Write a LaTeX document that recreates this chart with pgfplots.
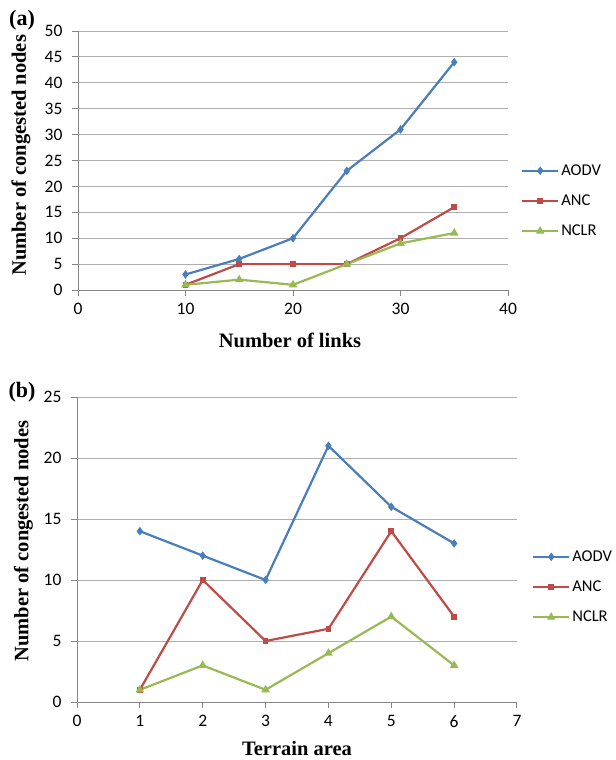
\documentclass[border=0pt]{standalone}
\usepackage{pgfplots}
\pgfplotsset{compat=1.18}
\usepackage{fontspec}
\setmainfont{Liberation Serif}
\newfontfamily\calib{Carlito}
\definecolor{cb}{HTML}{4A7EBB}
\definecolor{cr}{HTML}{BE4B48}
\definecolor{cg}{HTML}{98B954}
\definecolor{gridc}{HTML}{ADADAD}
\definecolor{axc}{HTML}{868686}
\pgfplotsset{
  common/.style={
    scale only axis,
    axis lines*=left,
    axis line style={axc, line width=1bp},
    tick align=outside,
    major tick length=6bp,
    tick style={axc, line width=1bp},
    ymajorgrids,
    grid style={gridc, line width=1bp},
    /pgf/number format/assume math mode=true,
    tick label style={font=\calib\fontsize{17.5bp}{19bp}\selectfont, text=black},
    y tick label style={xshift=-6bp},
    x tick label style={yshift=-4bp},
    label style={font=\bfseries\fontsize{20.5bp}{22bp}\selectfont},
    legend style={draw=none, fill=none, font=\calib\fontsize{16.5bp}{19bp}\selectfont, row sep=14bp, inner sep=0pt},
    legend cell align=left,
    legend image code/.code={\draw[mark repeat=2,mark phase=2,##1] plot coordinates {(0bp,0bp) (18bp,0bp) (36bp,0bp)};},
    every axis plot/.append style={line width=2.2bp},
  },
  aodv/.style={cb, mark=diamond*, mark size=2.5bp, mark options={solid}},
  anc/.style={cr, mark=square*, mark size=1.8bp, mark options={solid}},
  nclr/.style={cg, mark=triangle*, mark size=2.8bp, mark options={solid}},
}
\begin{document}
\begin{tikzpicture}
\path[use as bounding box] (0bp,0bp) rectangle (616bp,-760bp);
\begin{axis}[common,
  at={(78bp,-290bp)}, anchor=south west,
  width=430bp, height=259bp,
  xmin=0, xmax=40, ymin=0, ymax=50,
  xtick={0,10,20,30,40}, ytick={0,5,...,50},
  xlabel={Number of links},
  ylabel={Number of congested nodes},
  x label style={at={(axis description cs:0.493,-0.195)}, anchor=center},
  y label style={at={(axis description cs:-0.133,0.52)}, anchor=center},
  legend style={at={(axis description cs:1.03,0.344)}, anchor=west},
]
\addplot[aodv] coordinates {(10,3) (15,6) (20,10) (25,23) (30,31) (35,44)};
\addplot[anc] coordinates {(10,1) (15,5) (20,5) (25,5) (30,10) (35,16)};
\addplot[nclr] coordinates {(10,1) (15,2) (20,1) (25,5) (30,9) (35,11)};
\legend{AODV, ANC, NCLR}
\end{axis}
\begin{axis}[common,
  at={(77bp,-702bp)}, anchor=south west,
  width=440bp, height=305bp,
  xmin=0, xmax=7, ymin=0, ymax=25,
  xtick={0,1,...,7}, ytick={0,5,...,25},
  xlabel={Terrain area},
  ylabel={Number of congested nodes},
  x label style={at={(axis description cs:0.5,-0.152)}, anchor=center},
  y label style={at={(axis description cs:-0.122,0.528)}, anchor=center},
  legend style={at={(axis description cs:1.034,0.377)}, anchor=west},
]
\addplot[aodv] coordinates {(1,14) (2,12) (3,10) (4,21) (5,16) (6,13)};
\addplot[anc] coordinates {(1,1) (2,10) (3,5) (4,6) (5,14) (6,7)};
\addplot[nclr] coordinates {(1,1) (2,3) (3,1) (4,4) (5,7) (6,3)};
\legend{AODV, ANC, NCLR}
\end{axis}
\node[font=\bfseries\fontsize{22bp}{24bp}\selectfont] at (22bp,-20bp) {(a)};
\node[font=\bfseries\fontsize{22bp}{24bp}\selectfont] at (22bp,-392bp) {(b)};
\end{tikzpicture}
\end{document}
